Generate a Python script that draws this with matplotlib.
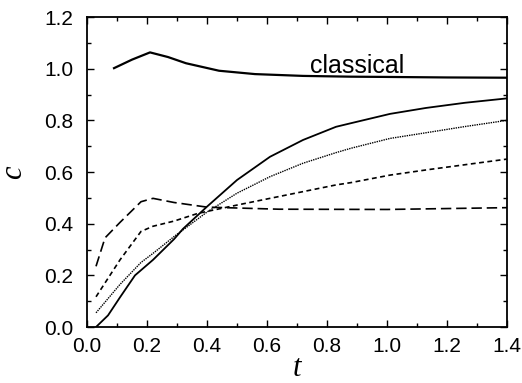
import matplotlib
matplotlib.use("Agg")
import matplotlib.pyplot as plt
from matplotlib.ticker import MultipleLocator

# curves (t, c)
classical_t = [0.09, 0.15, 0.21, 0.27, 0.33, 0.44, 0.56, 0.72, 0.88, 1.0, 1.2, 1.4]
classical_c = [1.002, 1.035, 1.063, 1.045, 1.021, 0.992, 0.979, 0.972, 0.969, 0.968, 0.966, 0.965]

solid_t = [0.03, 0.07, 0.11, 0.16, 0.22, 0.29, 0.32, 0.40, 0.50, 0.61, 0.72, 0.83, 0.88, 1.01, 1.13, 1.26, 1.40]
solid_c = [0.0, 0.045, 0.115, 0.20, 0.26, 0.34, 0.38, 0.466, 0.569, 0.659, 0.724, 0.775, 0.789, 0.825, 0.848, 0.868, 0.885]

dotted_t = [0.03, 0.11, 0.18, 0.22, 0.29, 0.40, 0.50, 0.61, 0.72, 0.83, 0.88, 1.01, 1.13, 1.26, 1.40]
dotted_c = [0.055, 0.165, 0.25, 0.285, 0.35, 0.445, 0.518, 0.582, 0.634, 0.675, 0.692, 0.730, 0.752, 0.776, 0.80]

short_t = [0.03, 0.11, 0.18, 0.22, 0.29, 0.37, 0.50, 0.61, 0.83, 0.88, 1.01, 1.13, 1.40]
short_c = [0.117, 0.26, 0.37, 0.39, 0.41, 0.44, 0.472, 0.498, 0.55, 0.559, 0.588, 0.608, 0.65]

long_t = [0.03, 0.06, 0.11, 0.18, 0.22, 0.29, 0.40, 0.64, 1.0, 1.4]
long_c = [0.235, 0.345, 0.405, 0.485, 0.498, 0.482, 0.464, 0.456, 0.455, 0.462]

plt.rcParams['font.family'] = ['Liberation Sans', 'DejaVu Sans']
plt.rcParams['lines.scale_dashes'] = False

fig = plt.figure(figsize=(5.22, 3.83), dpi=100)
ax = fig.add_axes([0.1667, 0.1462, 0.8046, 0.8094])

ax.plot(classical_t, classical_c, color='k', lw=1.6)
ax.plot(solid_t, solid_c, color='k', lw=1.3)
ax.plot(dotted_t, dotted_c, color='k', lw=1.0, dashes=(1.0, 0.7))
ax.plot(short_t, short_c, color='k', lw=1.2, dashes=(3.5, 2.5))
ax.plot(long_t, long_c, color='k', lw=1.2, dashes=(7.5, 3.5))

ax.text(0.9, 0.984, 'classical', fontsize=18, ha='center', va='baseline')

ax.set_xlim(0, 1.4)
ax.set_ylim(0, 1.2)
ax.xaxis.set_major_locator(MultipleLocator(0.2))
ax.xaxis.set_minor_locator(MultipleLocator(0.1))
ax.yaxis.set_major_locator(MultipleLocator(0.2))
ax.yaxis.set_minor_locator(MultipleLocator(0.1))
ax.xaxis.set_major_formatter(plt.FormatStrFormatter('%.1f'))
ax.yaxis.set_major_formatter(plt.FormatStrFormatter('%.1f'))
ax.tick_params(which='both', direction='in', top=True, right=True, labelsize=15, width=1)
ax.tick_params(which='major', length=5)
ax.tick_params(which='minor', length=3)
ax.tick_params(axis='x', which='major', pad=7)
ax.tick_params(axis='y', which='major', pad=10)
for s in ax.spines.values():
    s.set_linewidth(1.3)

ax.set_xlabel('t', fontsize=22, family='Liberation Serif', style='italic')
ax.set_ylabel('c', fontsize=22, family='Liberation Serif', style='italic')
ax.xaxis.label.set_va('baseline')
ax.xaxis.set_label_coords(0.5, -0.158)
ax.yaxis.label.set_va('center')
ax.yaxis.set_label_coords(-0.174, 0.5)

fig.savefig('out.png', dpi=100)
